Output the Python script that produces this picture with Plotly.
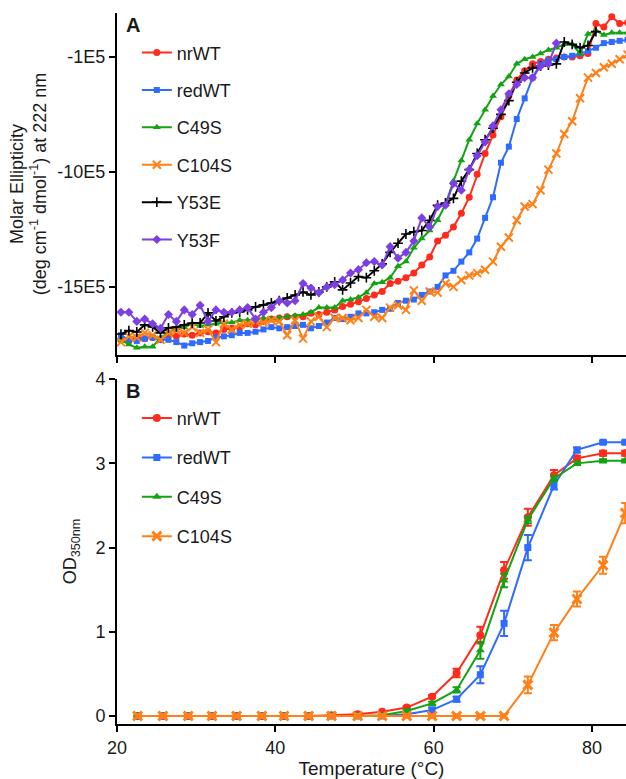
import plotly.graph_objects as go

# ---------------- Panel A data (molar ellipticity, units of 1E5) ----------------
T_CD = [20.5, 21.5, 22.5, 23.5, 24.5, 25.5, 26.5, 27.5, 28.5, 29.5,
        30.5, 31.5, 32.5, 33.5, 34.5, 35.5, 36.5, 37.5, 38.5, 39.5,
        40.5, 41.5, 42.5, 43.5, 44.5, 45.5, 46.5, 47.5, 48.5, 49.5,
        50.5, 51.5, 52.5, 53.5, 54.5, 55.5, 56.5, 57.5, 58.5, 59.5,
        60.5, 61.5, 62.5, 63.5, 64.5, 65.5, 66.5, 67.5, 68.5, 69.5,
        70.5, 71.5, 72.5, 73.5, 74.5, 75.5, 76.5, 77.5, 78.5, 79.5,
        80.5, 81.5, 82.5, 83.5, 84.5]

cd_nrWT = [-17.3, -17.35, -17.2, -17.25, -17.2, -17.3, -17.1, -17.15, -17.05, -17.1,
           -17.0, -16.95, -17.0, -16.85, -16.8, -16.75, -16.6, -16.65, -16.5, -16.4,
           -16.35, -16.3, -16.3, -16.3, -16.15, -16.2, -16.1, -16.0, -15.85, -15.75,
           -15.65, -15.5, -15.35, -15.2, -14.85, -14.75, -14.6, -14.4, -14.05, -13.7,
           -13.0, -12.75, -12.4, -11.8, -11.1, -10.1, -9.2, -8.4, -7.6, -6.7,
           -6.0, -5.6, -5.3, -5.2, -5.1, -5.05, -5.0, -5.0, -4.95, -4.85,
           -3.55, -3.7, -3.25, -3.55, -3.5]

cd_redWT = [-17.1, -17.3, -17.35, -17.25, -17.2, -17.3, -17.3, -17.4, -17.55, -17.45,
            -17.4, -17.35, -17.2, -17.15, -17.1, -17.0, -17.0, -16.95, -16.85, -16.75,
            -16.8, -16.75, -16.7, -16.65, -16.8, -16.7, -16.55, -16.35, -16.4, -16.3,
            -16.15, -16.15, -16.1, -16.0, -15.95, -15.7, -15.6, -15.55, -15.35, -15.2,
            -15.0, -14.5, -14.3, -13.9, -13.5, -12.9, -12.0, -11.1, -9.6, -8.9,
            -7.7, -6.8, -5.9, -5.3, -5.15, -5.1, -5.0, -4.95, -4.85, -4.75,
            -4.6, -4.4, -4.35, -4.3, -4.25]

cd_C49S = [-17.3, -17.5, -17.65, -17.6, -17.6, -17.2, -17.0, -16.8, -16.75, -16.6,
           -16.7, -16.65, -16.6, -16.55, -16.55, -16.45, -16.45, -16.4, -16.35, -16.4,
           -16.35, -16.3, -16.25, -16.2, -16.1, -15.9, -15.9, -15.9, -15.6, -15.55,
           -15.45, -15.25, -14.85, -14.8, -14.6, -14.1, -13.9, -13.3, -12.9, -12.55,
           -12.1, -11.4, -10.4, -9.5, -8.6, -7.9, -7.3, -6.7, -6.2, -5.85,
           -5.3, -5.1, -5.0, -4.85, -4.7, -4.6, -4.45, -4.45, -4.85, -4.0,
           -3.85, -4.05, -3.95, -3.95, -3.95]

cd_C104S = [-17.4, -17.15, -17.2, -17.0, -17.1, -17.3, -17.0, -16.9, -17.0, -16.75,
            -17.0, -16.85, -17.4, -16.6, -16.85, -16.65, -16.6, -16.5, -16.55, -16.45,
            -16.5, -17.1, -16.45, -17.25, -16.5, -16.3, -16.75, -16.35, -16.35, -16.45,
            -16.35, -16.0, -16.3, -16.35, -15.9, -15.8, -16.0, -15.15, -15.6, -15.2,
            -15.25, -14.85, -15.0, -14.7, -14.5, -14.4, -14.25, -13.9, -13.25, -12.85,
            -12.1, -11.5, -11.4, -10.8, -9.9, -9.2, -8.35, -7.8, -6.8, -5.9,
            -5.7, -5.45, -5.3, -5.1, -4.9]

cd_Y53E = [-17.05, -16.9, -16.96, -16.65, -16.74, -17.0, -16.78, -16.74, -16.65, -16.57,
           -16.57, -16.13, -16.48, -16.3, -16.13, -16.09, -16.0, -15.87, -15.78, -15.7,
           -15.6, -15.48, -15.35, -15.22, -15.35, -15.22, -15.0, -14.78, -15.13, -14.83,
           -14.55, -14.6, -14.3, -14.0, -13.5, -13.1, -12.7, -12.6, -12.55, -12.1,
           -11.45, -11.35, -11.15, -10.4, -9.9, -9.2, -8.6, -8.1, -7.5, -6.9,
           -6.1, -5.7, -5.48, -5.4, -5.35, -5.3, -4.35, -4.45, -4.6, -4.5,
           -3.9]

cd_Y53F = [-16.1, -16.1, -16.5, -16.4, -16.6, -16.8, -16.2, -16.5, -16.0, -16.2,
           -15.8, -16.5, -16.0, -16.1, -16.1, -16.0, -15.9, -16.4, -16.1, -15.9,
           -15.6, -15.7, -15.6, -14.85, -15.05, -15.25, -15.0, -14.9, -14.7, -14.4,
           -14.25, -13.95, -13.9, -14.05, -13.25, -13.75, -13.5, -13.0, -12.0, -12.4,
           -11.5, -11.45, -10.5, -10.8, -9.9, -9.3, -8.7, -8.0, -7.3, -6.6,
           -6.2, -5.9, -5.9, -5.4, -5.3, -4.4]

cd_tickvals = [-5, -10, -15]
cd_ticktext = ["-1E5", "-10E5", "-15E5"]

# ---------------- Panel B data (OD350) ----------------
T_OD = [22.6, 25.8, 29.0, 32.0, 35.1, 38.3, 41.1, 44.2, 47.1, 50.4,
        53.5, 56.6, 59.8, 62.9, 65.9, 68.9, 71.9, 75.2, 78.1, 81.4, 84.2]

od_nrWT = [0, 0, 0, 0, 0, 0, 0, 0, 0.01, 0.02, 0.05, 0.1, 0.23, 0.51, 0.96, 1.73, 2.36, 2.86, 3.06, 3.12, 3.12]
err_nrWT = [0, 0, 0, 0, 0, 0, 0, 0, 0, 0, 0, 0.02, 0.02, 0.05, 0.1, 0.1, 0.1, 0.06, 0.03, 0.03, 0.03]
od_redWT = [0, 0, 0, 0, 0, 0, 0, 0, 0, 0, 0, 0.02, 0.07, 0.2, 0.49, 1.1, 2.0, 2.74, 3.16, 3.25, 3.25]
err_redWT = [0, 0, 0, 0, 0, 0, 0, 0, 0, 0, 0, 0.02, 0.03, 0.03, 0.1, 0.15, 0.15, 0.05, 0.03, 0.02, 0.02]
od_C49S = [0, 0, 0, 0, 0, 0, 0, 0, 0, 0, 0.01, 0.06, 0.15, 0.31, 0.78, 1.61, 2.33, 2.82, 3.0, 3.03, 3.03]
err_C49S = [0, 0, 0, 0, 0, 0, 0, 0, 0, 0, 0, 0.02, 0.02, 0.03, 0.1, 0.08, 0.04, 0.03, 0.02, 0.02, 0.02]
od_C104S = [0, 0, 0, 0, 0, 0, 0, 0, 0, 0, 0, 0, 0, 0, 0, 0, 0.37, 0.99, 1.39, 1.79, 2.41]
err_C104S = [0.02, 0.02, 0.02, 0.02, 0.02, 0.02, 0.02, 0.02, 0.02, 0.02, 0.02, 0.02, 0.02, 0.02, 0.02, 0.02,
             0.1, 0.09, 0.09, 0.1, 0.12]

x_ticks = [20, 40, 60, 80]

RED = "#FF2B1C"
BLUE = "#2E6BFF"
GREEN = "#13A313"
ORANGE = "#FF8019"
BLACK = "#000000"
PURPLE = "#7B3FE4"

FONT = "Liberation Sans, Arial, sans-serif"
TXT = "#1a1a1a"
FS = 18

fig = go.Figure()

cd_series = [
    ("nrWT", cd_nrWT, RED, dict(symbol="circle", size=7)),
    ("redWT", cd_redWT, BLUE, dict(symbol="square", size=6)),
    ("C49S", cd_C49S, GREEN, dict(symbol="triangle-up", size=7)),
    ("C104S", cd_C104S, ORANGE, dict(symbol="x-thin", size=8, line=dict(width=2, color=ORANGE))),
    ("Y53E", cd_Y53E, BLACK, dict(symbol="cross-thin", size=7, line=dict(width=1.6, color=BLACK))),
    ("Y53F", cd_Y53F, PURPLE, dict(symbol="diamond", size=7)),
]
for name, vals, col, mk in cd_series:
    fig.add_trace(go.Scatter(
        x=T_CD[:len(vals)], y=vals, name=name, mode="lines+markers",
        line=dict(color=col, width=2), marker=dict(color=col, **mk),
        xaxis="x", yaxis="y", legend="legend", legendgroup="a" + name))

od_series = [
    ("nrWT", od_nrWT, err_nrWT, RED, dict(symbol="circle", size=8)),
    ("redWT", od_redWT, err_redWT, BLUE, dict(symbol="square", size=7)),
    ("C49S", od_C49S, err_C49S, GREEN, dict(symbol="triangle-up", size=8)),
    ("C104S", od_C104S, err_C104S, ORANGE, dict(symbol="x-thin", size=9, line=dict(width=3, color=ORANGE))),
]
for name, vals, errs, col, mk in od_series:
    fig.add_trace(go.Scatter(
        x=T_OD, y=vals, name=name, mode="lines+markers",
        line=dict(color=col, width=2), marker=dict(color=col, **mk),
        error_y=dict(type="data", array=errs, visible=True, color=col, thickness=2, width=4),
        xaxis="x2", yaxis="y2", legend="legend2", legendgroup="b" + name))

axis_common = dict(showline=True, linecolor="black", linewidth=2, ticks="outside",
                   ticklen=6, tickwidth=2, tickcolor="black", showgrid=False, zeroline=False,
                   automargin=False, tickfont=dict(family=FONT, size=FS, color=TXT))

fig.update_layout(
    width=626, height=779,
    margin=dict(l=117, r=0, t=13, b=55),
    plot_bgcolor="white", paper_bgcolor="white",
    font=dict(family=FONT, color=TXT),
    xaxis=dict(domain=[0, 1], range=[20, 84.3], anchor="y", tickvals=x_ticks,
               showticklabels=False, **axis_common),
    yaxis=dict(domain=[0.519, 1], range=[-17.96, -3.09], anchor="x",
               tickvals=cd_tickvals, ticktext=cd_ticktext,
               title=dict(text="Molar Ellipticity<br>(deg cm<sup>-1</sup> dmol<sup>-1</sup>) at 222 nm",
                          font=dict(family=FONT, size=FS, color=TXT), standoff=6),
               **axis_common),
    xaxis2=dict(domain=[0, 1], range=[20, 84.3], anchor="y2", tickvals=x_ticks,
                title=dict(text="Temperature (°C)", font=dict(family=FONT, size=19, color=TXT), standoff=6),
                **axis_common),
    yaxis2=dict(domain=[0, 0.485], range=[-0.095, 4], anchor="x2", tickvals=[0, 1, 2, 3, 4],
                title=dict(text="OD<sub>350nm</sub>", font=dict(family=FONT, size=FS, color=TXT), standoff=14),
                **axis_common),
    legend=dict(x=0.039, y=0.970, xanchor="left", yanchor="top", bgcolor="rgba(0,0,0,0)",
                font=dict(family=FONT, size=FS, color=TXT), tracegroupgap=11, itemwidth=30),
    legend2=dict(x=0.039, y=0.456, xanchor="left", yanchor="top", bgcolor="rgba(0,0,0,0)",
                 font=dict(family=FONT, size=FS, color=TXT), tracegroupgap=13, itemwidth=30),
    annotations=[
        dict(text="<b>A</b>", x=0.031, y=0.983, xref="paper", yref="paper", showarrow=False,
             font=dict(family=FONT, size=20, color=TXT), xanchor="center", yanchor="middle"),
        dict(text="<b>B</b>", x=0.031, y=0.468, xref="paper", yref="paper", showarrow=False,
             font=dict(family=FONT, size=20, color=TXT), xanchor="center", yanchor="middle"),
    ],
)

fig.write_html("out.html", config={"displayModeBar": False},
               post_script="document.body.style.margin='0';document.body.style.overflow='hidden';")
